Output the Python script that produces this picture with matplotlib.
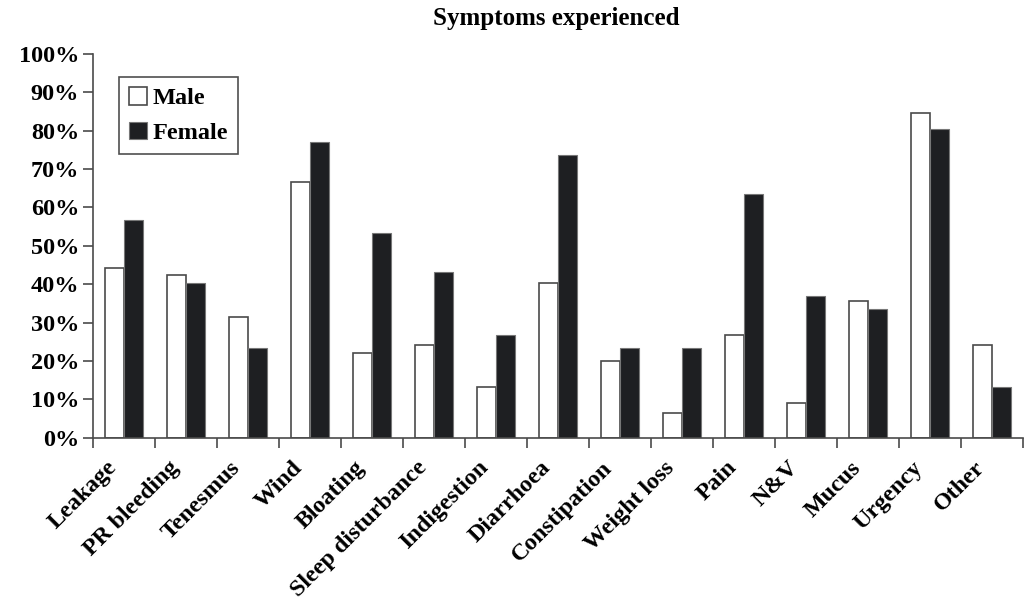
import matplotlib
matplotlib.use("Agg")
import matplotlib.pyplot as plt
import matplotlib.transforms as mtransforms
import numpy as np
from matplotlib.ticker import FixedLocator, FuncFormatter

symptoms = ["Leakage", "PR bleeding", "Tenesmus", "Wind", "Bloating",
            "Sleep disturbance", "Indigestion", "Diarrhoea", "Constipation",
            "Weight loss", "Pain", "N&V", "Mucus", "Urgency", "Other"]
male = [44.3, 42.3, 31.4, 66.7, 22.0, 24.2, 13.1, 40.2, 19.9, 6.4,
        26.7, 9.0, 35.5, 84.6, 24.2]
female = [56.7, 40.2, 23.3, 77.0, 53.4, 43.3, 26.8, 73.7, 23.3, 23.3,
          63.5, 36.9, 33.5, 80.4, 13.2]

plt.rcParams["font.family"] = ["Liberation Serif", "DejaVu Serif"]
plt.rcParams["font.weight"] = "bold"

fig = plt.figure(figsize=(10.27, 6.08), dpi=100)
ax = fig.add_axes([93 / 1027, 1 - 437.7 / 608, 930 / 1027, 383.7 / 608])

x = np.arange(len(symptoms))
w = 0.3
edge = "#4a4a4a"
ax.bar(x - w / 2, male, w, color="white", edgecolor=edge, linewidth=1.2, label="Male")
ax.bar(x + w / 2, female, w, color="#1e1f22", edgecolor="#777777", linewidth=0.8, label="Female")

ax.set_xlim(-0.5, len(symptoms) - 0.5)
ax.set_ylim(0, 100)
ax.set_yticks(np.arange(0, 101, 10))
ax.yaxis.set_major_formatter(FuncFormatter(lambda v, p: f"{int(v)}%"))

# category boundaries get the ticks, labels sit at the centres
ax.xaxis.set_major_locator(FixedLocator(np.arange(-0.5, len(symptoms), 1)))
ax.xaxis.set_major_formatter(FuncFormatter(lambda v, p: ""))
ax.xaxis.set_minor_locator(FixedLocator(x))
ax.set_xticklabels(symptoms, minor=True, rotation=45, ha="right", va="top",
                   rotation_mode="anchor", fontsize=17.3, fontweight="bold")
ax.tick_params(axis="x", which="minor", length=0, pad=14)
ax.tick_params(axis="x", which="major", length=7, width=1.2, color=edge, direction="out")
ax.tick_params(axis="y", length=7, width=1.2, color=edge, labelsize=17.5, pad=3)

# nudge the slanted labels a little to the left of the bar pairs
shift = mtransforms.ScaledTranslation(-18 / 100, 0, fig.dpi_scale_trans)
for lbl in ax.get_xticklabels(minor=True):
    lbl.set_transform(lbl.get_transform() + shift)

for s in ["top", "right"]:
    ax.spines[s].set_visible(False)
for s in ["left", "bottom"]:
    ax.spines[s].set_color(edge)
    ax.spines[s].set_linewidth(1.2)

leg = ax.legend(loc="upper left", bbox_to_anchor=(26 / 930, 1 - 23.3 / 383.7),
                fontsize=17.5, frameon=True, fancybox=False, handlelength=0.75,
                handleheight=0.75, handletextpad=0.25, borderpad=0.4,
                labelspacing=0.5, borderaxespad=0)
leg.get_frame().set_edgecolor("#222222")
leg.get_frame().set_linewidth(1.2)

fig.text(556 / 1027, 1 - 18 / 608, "Symptoms experienced", ha="center", va="center",
         fontsize=18, fontweight="bold")

fig.savefig("out.png", dpi=100)
